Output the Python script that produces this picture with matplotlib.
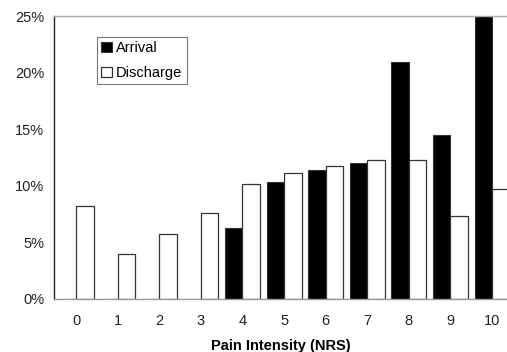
import numpy as np
import matplotlib
matplotlib.use("Agg")
import matplotlib.pyplot as plt
from matplotlib.ticker import PercentFormatter

plt.rcParams['font.family'] = ['Liberation Sans', 'DejaVu Sans']

# NRS pain score distribution (% of patients)
scores = list(range(11))
arrival = [0, 0, 0, 0, 6.3, 10.3, 11.4, 12.0, 20.9, 14.5, 26.0]
discharge = [8.2, 3.95, 5.75, 7.6, 10.2, 11.1, 11.75, 12.3, 12.3, 7.35, 9.7]
series_names = ['Arrival', 'Discharge']

fig = plt.figure(figsize=(5.07, 3.52), dpi=100)
ax = fig.add_axes([54 / 507, 1 - 299 / 352, 1 - 54 / 507, 283 / 352])

x = np.arange(len(scores))
w = 0.42
ax.bar(x - w / 2, arrival, w, color='black', edgecolor='#333333', linewidth=0.8,
       label=series_names[0])
ax.bar(x + w / 2, discharge, w, color='white', edgecolor='#333333', linewidth=0.9,
       label=series_names[1])

ax.set_xlim(-0.53, 10.36)
ax.set_ylim(0, 25)
ax.set_xticks(x)
ax.set_xticklabels([str(s) for s in scores])
ax.set_yticks([0, 5, 10, 15, 20, 25])
ax.yaxis.set_major_formatter(PercentFormatter(decimals=0))
ax.tick_params(length=0, labelsize=10.5, colors='#222222')
ax.tick_params(axis='x', pad=11)
ax.tick_params(axis='y', pad=7)

ax.spines['right'].set_visible(False)
ax.spines['left'].set_color('#222222')
ax.spines['top'].set_color('#aaaaaa')
ax.spines['bottom'].set_color('#999999')
for s in ax.spines.values():
    s.set_linewidth(1.0)

ax.set_xlabel('Pain Intensity (NRS)', fontsize=10.5, fontweight='bold', labelpad=8)

leg = ax.legend(loc='upper left', bbox_to_anchor=(0.095, 0.927), fontsize=10.5,
                frameon=True, fancybox=False, handlelength=0.75, handleheight=0.75,
                handletextpad=0.25, borderpad=0.3, labelspacing=0.75, borderaxespad=0)
leg.get_frame().set_edgecolor('#555555')
leg.get_frame().set_linewidth(0.8)

fig.savefig('out.png', dpi=100)
